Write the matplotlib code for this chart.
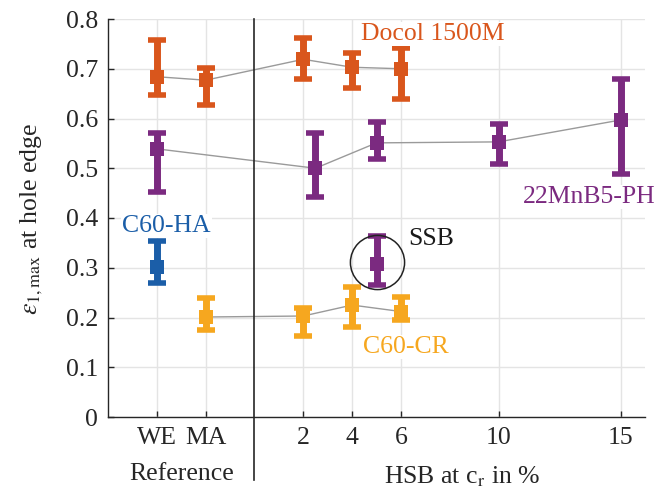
import matplotlib
matplotlib.use('Agg')
import matplotlib.pyplot as plt
import matplotlib.transforms as mtrans

plt.rcParams['font.family'] = ['Liberation Serif', 'DejaVu Serif']
plt.rcParams['mathtext.fontset'] = 'stix'

# x positions: reference states left of 0, HSB fraction in % right of 0
tick_pos = [-4, -2, 2, 4, 6, 10, 15]
tick_labels = ['WE', 'MA', '2', '4', '6', '10', '15']

# Docol 1500M
docol_x = [-4, -2, 2, 4, 6]
docol_y = [0.684, 0.677, 0.719, 0.703, 0.700]
docol_lo = [0.647, 0.627, 0.679, 0.661, 0.639]
docol_hi = [0.758, 0.702, 0.762, 0.732, 0.741]

# 22MnB5-PH
mnb_x = [-4, 2.5, 5, 10, 15]
mnb_y = [0.539, 0.500, 0.551, 0.553, 0.597]
mnb_lo = [0.452, 0.443, 0.518, 0.509, 0.488]
mnb_hi = [0.571, 0.571, 0.593, 0.589, 0.679]

# C60-HA
ha_x = [-4]
ha_y = [0.301]
ha_lo = [0.269]
ha_hi = [0.354]

# C60-CR
cr_x = [-2, 2, 4, 6]
cr_y = [0.201, 0.203, 0.225, 0.212]
cr_lo = [0.175, 0.163, 0.181, 0.195]
cr_hi = [0.239, 0.219, 0.261, 0.241]

# SSB (22MnB5)
ssb_x = [5]
ssb_y = [0.307]
ssb_lo = [0.265]
ssb_hi = [0.364]

c_orange = '#D9561C'
c_purple = '#7B2A80'
c_blue = '#1B5EA8'
c_yellow = '#F6A71F'

fig = plt.figure(figsize=(6.72, 4.98), dpi=100)
ax = fig.add_axes([108 / 672, 81 / 498, 537 / 672, 398 / 498])

def series(x, y, lo, hi, color, line=True):
    if line and len(x) > 1:
        ax.plot(x, y, color='#9a9a9a', lw=1.0, zorder=2)
    err = [[v - l for v, l in zip(y, lo)], [h - v for v, h in zip(y, hi)]]
    ax.errorbar(x, y, yerr=err, fmt='none', ecolor=color,
                elinewidth=5, capsize=6.5, capthick=4, zorder=3)
    ax.plot(x, y, 's', color=color, ms=10.5, mew=0, zorder=3)

series(docol_x, docol_y, docol_lo, docol_hi, c_orange)
series(mnb_x, mnb_y, mnb_lo, mnb_hi, c_purple)
series(ha_x, ha_y, ha_lo, ha_hi, c_blue)
series(cr_x, cr_y, cr_lo, cr_hi, c_yellow)
series(ssb_x, ssb_y, ssb_lo, ssb_hi, c_purple, line=False)

# circle marking the SSB point
ax.plot([5], [0.312], marker='o', ms=39, mfc='none', mec='#222222', mew=1.1,
        zorder=4)

ax.set_xlim(-6, 16)
ax.set_ylim(0, 0.8)
ax.set_xticks(tick_pos)
ax.set_xticklabels(tick_labels)
ax.set_yticks([0, 0.1, 0.2, 0.3, 0.4, 0.5, 0.6, 0.7, 0.8])
ax.set_yticklabels(['0', '0.1', '0.2', '0.3', '0.4', '0.5', '0.6', '0.7', '0.8'])
ax.tick_params(direction='in', length=4, width=1, labelsize=18.5,
               colors='#262626')
ax.tick_params(axis='x', pad=7)
ax.tick_params(axis='y', pad=7)
ax.grid(True, color='#e4e4e4', lw=1.0, zorder=0)
ax.set_axisbelow(True)
for s in ['top', 'right']:
    ax.spines[s].set_visible(False)
for s in ['left', 'bottom']:
    ax.spines[s].set_color('#262626')
    ax.spines[s].set_linewidth(1.0)

# separator between reference and HSB
trans = mtrans.blended_transform_factory(ax.transData, ax.transAxes)
ax.plot([0, 0], [-0.158, 1.0], transform=trans, color='#262626', lw=1.2,
        clip_on=False, zorder=5)

box = dict(facecolor='white', edgecolor='none', pad=1.0)
ax.text(7.32, 0.758, 'Docol 1500M', color=c_orange, fontsize=18.5,
        ha='center', va='baseline', bbox=box, zorder=6)
ax.text(13.72, 0.430, '22MnB5-PH', color=c_purple, fontsize=18.5,
        ha='center', va='baseline', bbox=box, zorder=6)
ax.text(-3.6, 0.372, 'C60-HA', color=c_blue, fontsize=18.5,
        ha='center', va='baseline', bbox=box, zorder=6)
ax.text(7.24, 0.346, 'SSB', color='#1a1a1a', fontsize=18.5,
        ha='center', va='baseline', zorder=6)
ax.text(6.21, 0.129, 'C60-CR', color=c_yellow, fontsize=18.5,
        ha='center', va='baseline', bbox=box, zorder=6)

ax.text(-3.0, -0.158, 'Reference', transform=trans, fontsize=18.5,
        ha='center', va='baseline', color='#262626')
ax.text(8.5, -0.166, r'HSB at c$_{\mathrm{r}}$ in %', transform=trans,
        fontsize=18.5, ha='center', va='baseline', color='#262626')

fig.text(32 / 672, 1 - 219 / 498, r'$\varepsilon_{1,\mathrm{max}}$ at hole edge',
         rotation=90, fontsize=18.5, ha='center', va='center', color='#262626')

fig.savefig('out.png', dpi=100)
